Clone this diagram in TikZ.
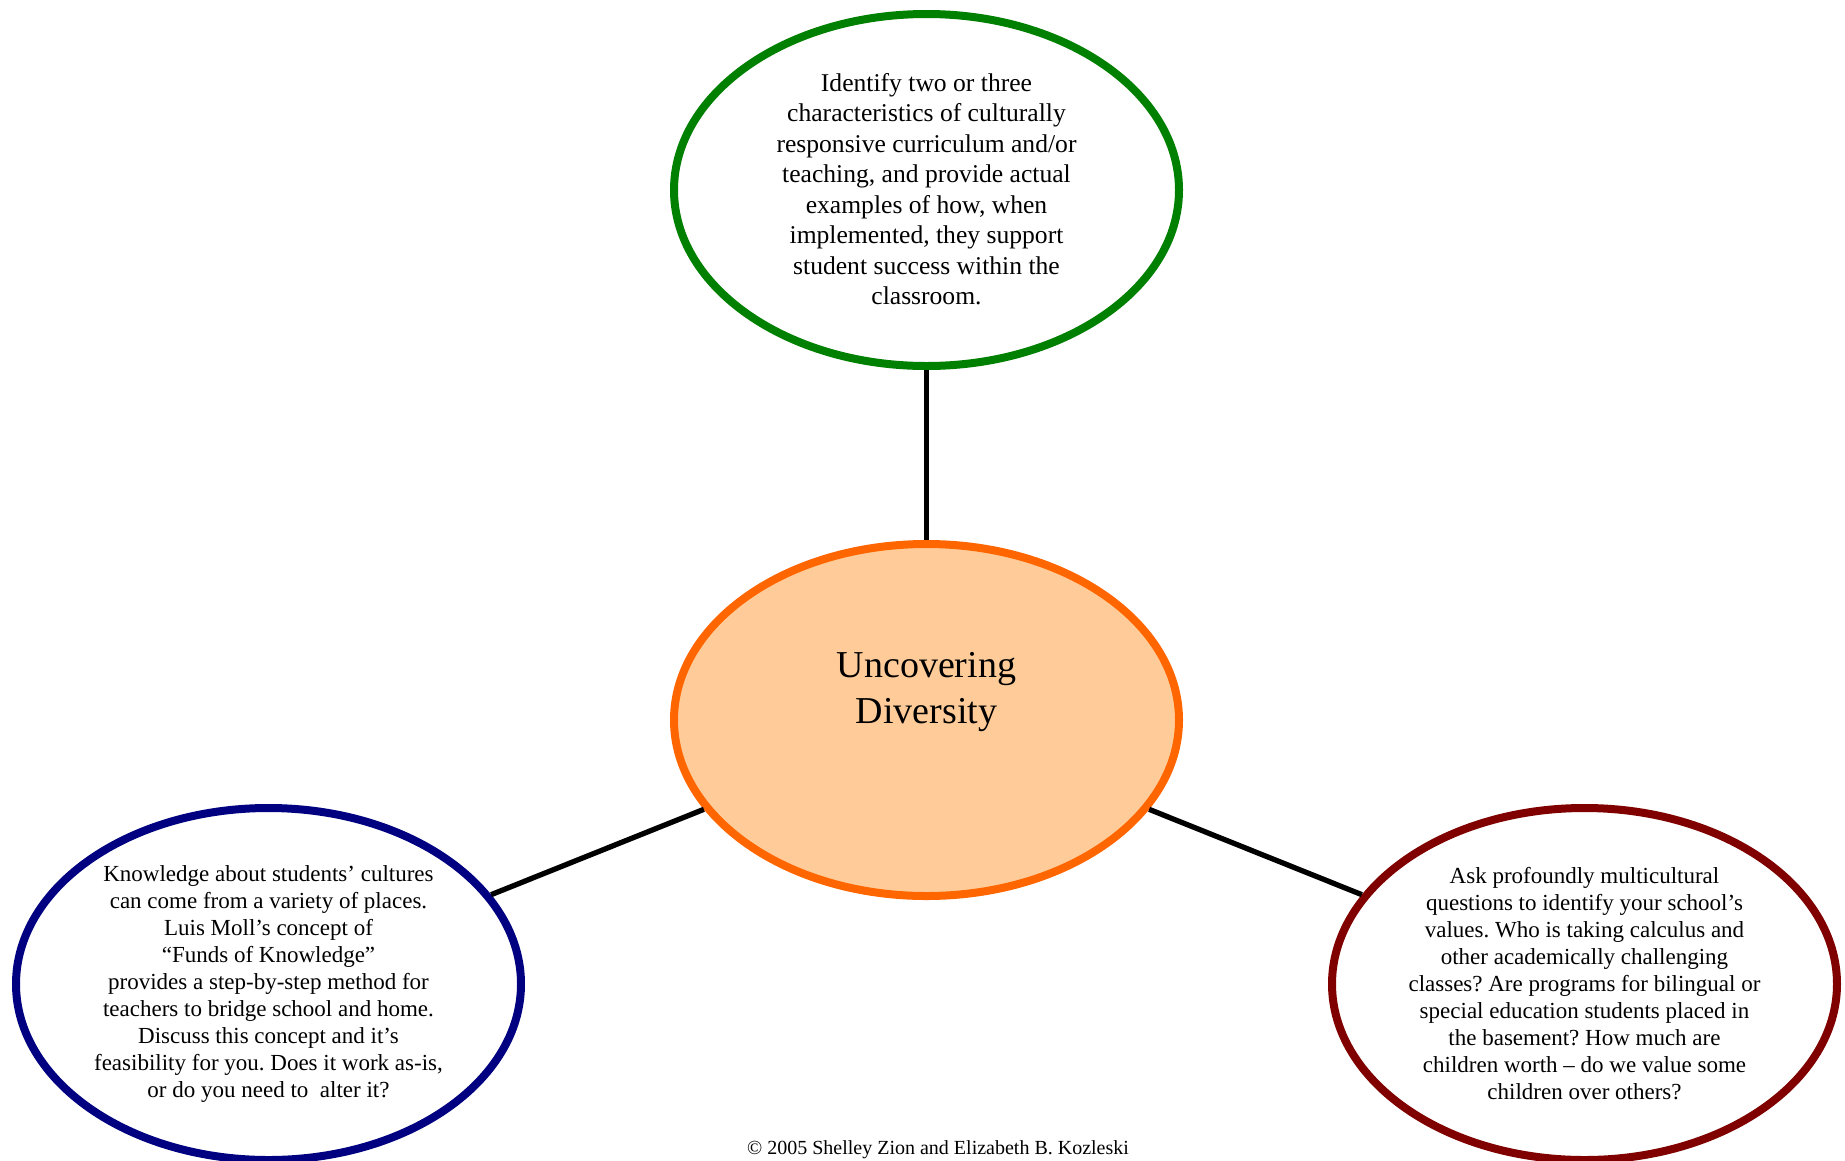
\documentclass[tikz,border=0pt]{standalone}
\usepackage{fontspec}
\setmainfont{Liberation Serif}
\usetikzlibrary{shapes.geometric}
\definecolor{topgreen}{RGB}{0,128,0}
\definecolor{midorange}{RGB}{255,102,0}
\definecolor{midfill}{RGB}{255,204,153}
\definecolor{leftnavy}{RGB}{0,0,128}
\definecolor{rightmaroon}{RGB}{128,0,0}
\frenchspacing
\begin{document}
\begin{tikzpicture}[x=1pt,y=-1pt,
  bubble/.style={ellipse, draw, line width=8pt, minimum width=505pt, minimum height=352pt, inner sep=0pt, fill=white},
  link/.style={line width=5.3pt, black},
  bigtext/.style={align=center, inner sep=0pt, font=\fontsize{25.6pt}{30.5pt}\selectfont},
  smalltext/.style={align=center, inner sep=0pt, font=\fontsize{23pt}{27pt}\selectfont},
  titletext/.style={align=center, inner sep=0pt, font=\fontsize{38pt}{45.5pt}\selectfont}]
\useasboundingbox (0,0) rectangle (1845,1160);
\fill[white] (0,0) rectangle (1845,1160);

\node[bubble, draw=topgreen] (top) at (926.5,190) {};
\node[bubble, draw=midorange, fill=midfill] (mid) at (926.5,720) {};
\node[bubble, draw=leftnavy] (left) at (268.5,984) {};
\node[bubble, draw=rightmaroon] (right) at (1584.5,984) {};

\draw[link] (mid) -- (top);
\draw[link] (mid) -- (left);
\draw[link] (mid) -- (right);

\node[bigtext] (toptext) at (926.5,189) {Identify two or three\\characteristics of culturally\\responsive curriculum and/or\\teaching, and provide actual\\examples of how, when\\implemented, they support\\student success within the\\classroom.};

\node[titletext] (midtext) at (926.5,692) {Uncovering\\Diversity};

\node[smalltext] (lefttext) at (268.5,984) {Knowledge about students’ cultures\\can come from a variety of places.\\Luis Moll’s concept of\\“Funds of Knowledge”\\provides a step-by-step method for\\teachers to bridge school and home.\\Discuss this concept and it’s\\feasibility for you. Does it work as-is,\\or do you need to~ alter it?};

\node[smalltext] (righttext) at (1584.5,984) {Ask profoundly multicultural\\questions to identify your school’s\\values. Who is taking calculus and\\other academically challenging\\classes? Are programs for bilingual or\\special education students placed in\\the basement? How much are\\children worth – do we value some\\children over others?};

\node[anchor=base, inner sep=0pt, font=\fontsize{20pt}{24pt}\selectfont] (copy) at (938,1154) {© 2005 Shelley Zion and Elizabeth B. Kozleski};
\end{tikzpicture}
\end{document}
